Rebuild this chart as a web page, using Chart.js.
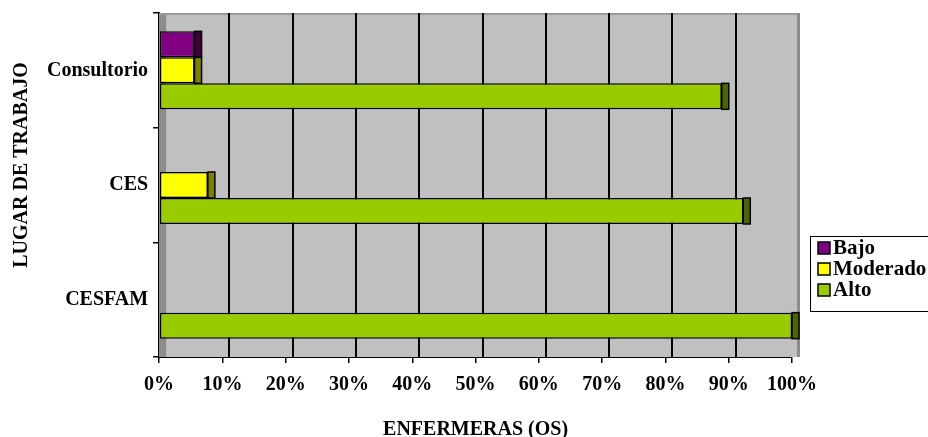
<!DOCTYPE html>
<html>
<head>
<meta charset="utf-8">
<script src="https://cdn.jsdelivr.net/npm/chart.js@4"></script>
<style>
  html, body { margin: 0; padding: 0; background: #fff; }
  #wrap { width: 928px; height: 437px; position: relative; }
</style>
</head>
<body>
<div id="wrap"><canvas id="chart"></canvas></div>
<script>
const categories = ["Consultorio", "CES", "CESFAM"];
const bajo = [5.6, 0, 0];
const moderado = [5.6, 7.7, 0];
const alto = [88.9, 92.3, 100];
const xTicks = [0, 10, 20, 30, 40, 50, 60, 70, 80, 90, 100];

const FONT = "'Liberation Serif', 'Times New Roman', serif";
const DEPTH = 7;

const series = [
  { label: "Bajo", data: bajo, color: "#800080", side: "#400040" },
  { label: "Moderado", data: moderado, color: "#ffff00", side: "#808000" },
  { label: "Alto", data: alto, color: "#99cc00", side: "#4d6600" }
];

// back wall, side wall and gridlines, drawn with an offset to mimic the 3D look
const wall = {
  id: "wall",
  beforeDatasetsDraw(chart) {
    const { ctx, chartArea: a, scales: { x } } = chart;
    ctx.save();
    ctx.fillStyle = "#c0c0c0";
    ctx.fillRect(a.left, a.top, a.right - a.left + DEPTH, a.bottom - a.top);
    ctx.fillStyle = "#8c8c8c";
    ctx.fillRect(a.left, a.top, DEPTH, a.bottom - a.top);
    ctx.fillStyle = "#9a9a9a";
    ctx.fillRect(a.left, a.top, a.right - a.left + DEPTH, 2);
    ctx.fillStyle = "#8c8c8c";
    ctx.fillRect(a.right + DEPTH - 2, a.top, 3, a.bottom - a.top);
    ctx.strokeStyle = "#000";
    ctx.lineWidth = 2;
    for (const v of xTicks.slice(1, -1)) {
      const px = Math.round(x.getPixelForValue(v)) + DEPTH;
      ctx.beginPath();
      ctx.moveTo(px, a.top);
      ctx.lineTo(px, a.bottom);
      ctx.stroke();
    }
    ctx.restore();
  }
};

// dark side face at the end of each bar
const sides = {
  id: "sides",
  afterDatasetsDraw(chart) {
    const { ctx } = chart;
    ctx.save();
    chart.data.datasets.forEach((ds, i) => {
      chart.getDatasetMeta(i).data.forEach((bar, j) => {
        if (!ds.data[j]) return;
        const h = bar.height;
        const top = bar.y - h / 2;
        ctx.fillStyle = series[i].side;
        ctx.fillRect(bar.x, top, DEPTH, h);
        ctx.strokeStyle = "#000";
        ctx.lineWidth = 1.5;
        ctx.strokeRect(bar.x, top, DEPTH, h);
      });
    });
    ctx.restore();
  }
};

// legend box at the right edge (cut by the canvas like the original)
const legendBox = {
  id: "legendBox",
  afterDraw(chart) {
    const { ctx } = chart;
    const x0 = 810, y0 = 236, rowH = 21;
    ctx.save();
    ctx.fillStyle = "#fff";
    ctx.fillRect(x0, y0, 140, 76);
    ctx.strokeStyle = "#000";
    ctx.lineWidth = 1;
    ctx.strokeRect(x0 + 0.5, y0 + 0.5, 140, 75);
    ctx.font = "bold 21px " + FONT;
    ctx.textBaseline = "middle";
    series.forEach((s, i) => {
      const cy = y0 + 12 + i * rowH;
      ctx.fillStyle = s.color;
      ctx.fillRect(x0 + 8, cy - 6, 12, 12);
      ctx.strokeStyle = "#000";
      ctx.lineWidth = 1.5;
      ctx.strokeRect(x0 + 8, cy - 6, 12, 12);
      ctx.fillStyle = "#000";
      ctx.fillText(s.label, x0 + 23, cy + 1);
    });
    ctx.restore();
  }
};

new Chart(document.getElementById("chart"), {
  type: "bar",
  data: {
    labels: categories,
    datasets: series.map(s => ({
      label: s.label,
      data: s.data,
      backgroundColor: s.color,
      borderColor: "#000",
      borderWidth: c => (c.raw ? 1.5 : 0),
      borderSkipped: false,
      categoryPercentage: 0.68,
      barPercentage: 1
    }))
  },
  options: {
    indexAxis: "y",
    responsive: true,
    maintainAspectRatio: false,
    animation: false,
    layout: { padding: { top: 13, right: 136, bottom: 0, left: 4 } },
    plugins: { legend: { display: false }, tooltip: { enabled: false } },
    scales: {
      x: {
        min: 0,
        max: 100,
        afterBuildTicks: s => { s.ticks = xTicks.map(v => ({ value: v })); },
        grid: { drawOnChartArea: false, color: "#000", tickLength: 6, lineWidth: 1.5 },
        border: { color: "#000", width: 2 },
        ticks: {
          color: "#000",
          padding: 10,
          font: { family: FONT, size: 20, weight: "bold" },
          callback: v => v + "%"
        },
        title: {
          display: true,
          text: "ENFERMERAS (OS)",
          color: "#000",
          font: { family: FONT, size: 20, weight: "bold", lineHeight: 0.7 },
          padding: { top: 16, bottom: 0 }
        }
      },
      y: {
        offset: true,
        grid: { drawOnChartArea: false, offset: true, color: "#000", tickLength: 6, lineWidth: 1.5 },
        border: { color: "#000", width: 2 },
        ticks: {
          color: "#000",
          padding: 5,
          font: { family: FONT, size: 20, weight: "bold", lineHeight: 0.6 }
        },
        title: {
          display: true,
          text: "\u2002\u2002\u2002\u2002LUGAR DE TRABAJO",
          color: "#000",
          font: { family: FONT, size: 20, weight: "bold" },
          padding: { top: 6, bottom: 8 }
        }
      }
    }
  },
  plugins: [wall, sides, legendBox]
});
</script>
</body>
</html>
